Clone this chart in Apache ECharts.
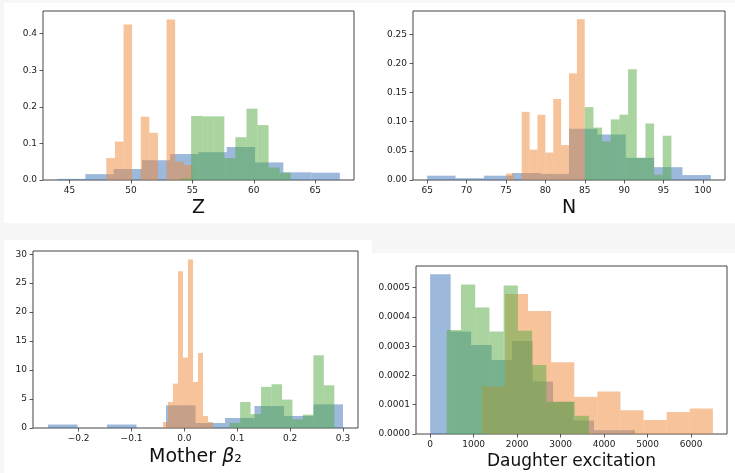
<!DOCTYPE html>
<html>
<head>
<meta charset="utf-8">
<script src="https://cdn.jsdelivr.net/npm/echarts@6/dist/echarts.min.js"></script>
<style>
html,body{margin:0;padding:0;background:#f7f7f7;}
#chart{width:735px;height:473px;}
</style>
</head>
<body>
<div id="chart"></div>
<script>
// ---------- Data (density histograms) ----------
// Panel Z
const zBlueEdges   = [44, 46.3, 48.6, 50.9, 53.2, 55.5, 57.8, 60.1, 62.4, 64.7, 67];
const zBlue        = [0.003, 0.016, 0.030, 0.054, 0.071, 0.076, 0.090, 0.048, 0.021, 0.020];
const zOrangeEdges = [48, 48.7, 49.4, 50.1, 50.8, 51.5, 52.2, 52.9, 53.6, 54.3, 55];
const zOrange      = [0.060, 0.105, 0.425, 0, 0.173, 0.129, 0, 0.439, 0.050, 0.041];
const zGreenEdges  = [54, 54.9, 55.8, 56.7, 57.6, 58.5, 59.4, 60.3, 61.2, 62.1, 63];
const zGreen       = [0.004, 0.175, 0.174, 0.174, 0.060, 0.117, 0.195, 0.150, 0.034, 0.020];
const zXTicks = [45, 50, 55, 60, 65];
const zYTicks = [0, 0.1, 0.2, 0.3, 0.4];

// Panel N
const nBlueEdges   = [65, 68.6, 72.2, 75.8, 79.4, 83, 86.6, 90.2, 93.8, 97.4, 101];
const nBlue        = [0.0074, 0.003, 0.0074, 0.012, 0.0105, 0.088, 0.078, 0.038, 0.022, 0.0085];
const nOrangeEdges = [75, 76, 77, 78, 79, 80, 81, 82, 83, 84, 85];
const nOrange      = [0.011, 0, 0.117, 0.052, 0.112, 0.047, 0.139, 0.060, 0.183, 0.276];
const nGreenEdges  = [85, 86.1, 87.2, 88.3, 89.4, 90.5, 91.6, 92.7, 93.8, 94.9, 96];
const nGreen       = [0.125, 0.090, 0.066, 0.104, 0.112, 0.190, 0.038, 0.097, 0.009, 0.076];
const nXTicks = [65, 70, 75, 80, 85, 90, 95, 100];
const nYTicks = [0, 0.05, 0.10, 0.15, 0.20, 0.25];

// Panel Mother beta2
const mBlueEdges   = [-0.258, -0.2022, -0.1464, -0.0906, -0.0348, 0.021, 0.0768, 0.1326, 0.1884, 0.2442, 0.3];
const mBlue        = [0.6, 0, 0.6, 0, 3.92, 0.86, 1.73, 3.8, 2.08, 4.08];
const mOrangeEdges = [-0.0405, -0.0310, -0.0216, -0.0121, -0.0027, 0.0068, 0.0163, 0.0257, 0.0352, 0.0446, 0.0541];
const mOrange      = [1.04, 4.5, 7.66, 27.06, 12.15, 29.08, 7.95, 12.96, 2.08, 1.04];
const mGreenEdges  = [0.0856, 0.1054, 0.1252, 0.145, 0.1648, 0.1846, 0.2044, 0.2242, 0.244, 0.2638, 0.2836];
const mGreen       = [0.9, 4.5, 2.4, 7.1, 7.55, 4.9, 1.5, 2.3, 12.55, 7.37];
const mXTicks = [-0.2, -0.1, 0.0, 0.1, 0.2, 0.3];
const mYTicks = [0, 5, 10, 15, 20, 25, 30];

// Panel Daughter excitation
const dBlueEdges   = [0, 471, 942, 1413, 1884, 2355, 2826, 3297, 3768, 4239, 4710];
const dBlue        = [0.000546, 0.000350, 0.000304, 0.000253, 0.000318, 0.000179, 0.000110, 0.000046, 0.000013, 0.000013];
const dOrangeEdges = [1189, 1720, 2251, 2782, 3313, 3845, 4376, 4907, 5438, 5969, 6500];
const dOrange      = [0.000162, 0.000478, 0.000420, 0.000245, 0.000127, 0.000145, 0.000081, 0.000048, 0.000075, 0.000087];
const dGreenEdges  = [382, 709, 1036, 1363, 1690, 2017, 2344, 2671, 2998, 3325, 3652];
const dGreen       = [0.000355, 0.000511, 0.000432, 0.000350, 0.000507, 0.000353, 0.000236, 0.000110, 0.000110, 0.000062];
const dXTicks = [0, 1000, 2000, 3000, 4000, 5000, 6000];
const dYTicks = [0, 0.0001, 0.0002, 0.0003, 0.0004, 0.0005];

// ---------- Styling ----------
const BLUE = 'rgba(57,113,181,0.5)';
const ORANGE = 'rgba(239,135,53,0.5)';
const GREEN = 'rgba(83,169,65,0.5)';
const FONT = 'DejaVu Sans';
const LABEL = '#1a1a1a';

function hist(idx, edges, vals, color) {
  const data = vals.map((v, i) => [edges[i], edges[i + 1], v]);
  return {
    type: 'custom', xAxisIndex: idx, yAxisIndex: idx, data: data,
    encode: { x: [0, 1], y: 2 },
    renderItem: function (params, api) {
      const p0 = api.coord([api.value(0), api.value(2)]);
      const p1 = api.coord([api.value(1), 0]);
      return { type: 'rect',
        shape: { x: p0[0], y: p0[1], width: p1[0] - p0[0], height: p1[1] - p0[1] },
        style: { fill: color } };
    }
  };
}

function xAxis(idx, min, max, ticks, fmt, name, nameGap, nameSize, rich) {
  return {
    type: 'value', gridIndex: idx, min: min, max: max,
    splitLine: { show: false }, axisLine: { show: false, onZero: false },
    axisTick: { show: true, length: 3.5, customValues: ticks, lineStyle: { color: '#333', width: 0.8 } },
    axisLabel: { customValues: ticks, formatter: fmt, fontFamily: FONT, fontSize: 9, color: LABEL, margin: 6 },
    name: name, nameLocation: 'middle', nameGap: nameGap,
    nameTextStyle: { fontFamily: FONT, fontSize: nameSize, color: '#111', rich: rich }
  };
}
function yAxis(idx, min, max, ticks, fmt) {
  return {
    type: 'value', gridIndex: idx, min: min, max: max,
    splitLine: { show: false }, axisLine: { show: false, onZero: false },
    axisTick: { show: true, length: 3.5, customValues: ticks, lineStyle: { color: '#333', width: 0.8 } },
    axisLabel: { customValues: ticks, formatter: fmt, fontFamily: FONT, fontSize: 9, color: LABEL, margin: 6 }
  };
}
const fix = n => v => (v < 0 ? '\u2212' : '') + Math.abs(v).toFixed(n);

const gridStyle = { show: true, borderColor: '#444', borderWidth: 1, backgroundColor: 'transparent' };

const chart = echarts.init(document.getElementById('chart'), null, { renderer: 'canvas' });
chart.setOption({
  animation: false,
  backgroundColor: '#f7f7f7',
  graphic: [
    { type: 'rect', silent: true, z: -10, shape: { x: 4, y: 3, width: 731, height: 220 }, style: { fill: '#ffffff' } },
    { type: 'rect', silent: true, z: -10, shape: { x: 4, y: 240, width: 368, height: 233 }, style: { fill: '#ffffff' } },
    { type: 'rect', silent: true, z: -10, shape: { x: 372, y: 253, width: 363, height: 220 }, style: { fill: '#ffffff' } }
  ],
  grid: [
    Object.assign({ left: 43, top: 11, width: 311, height: 169 }, gridStyle),
    Object.assign({ left: 413, top: 11, width: 312, height: 169 }, gridStyle),
    Object.assign({ left: 33, top: 251, width: 325, height: 177 }, gridStyle),
    Object.assign({ left: 416, top: 266, width: 311, height: 168 }, gridStyle)
  ],
  xAxis: [
    xAxis(0, 42.85, 68.15, zXTicks, fix(0), 'Z', 19, 19),
    xAxis(1, 63.2, 102.8, nXTicks, fix(0), 'N', 19, 19),
    xAxis(2, -0.2864, 0.3284, mXTicks, fix(1), '{a|Mother }{b|\u03b2}{a|\u2082}', 20, 19,
      { a: { fontFamily: FONT, fontSize: 19, color: '#111' }, b: { fontFamily: FONT, fontSize: 19, fontStyle: 'italic', color: '#111' } }),
    xAxis(3, -325, 6825, dXTicks, fix(0), 'Daughter excitation', 19, 17)
  ],
  yAxis: [
    yAxis(0, 0, 0.462, zYTicks, fix(1)),
    yAxis(1, 0, 0.290, nYTicks, fix(2)),
    yAxis(2, 0, 30.55, mYTicks, fix(0)),
    yAxis(3, 0, 0.000574, dYTicks, fix(4))
  ],
  series: [
    hist(0, zBlueEdges, zBlue, BLUE), hist(0, zOrangeEdges, zOrange, ORANGE), hist(0, zGreenEdges, zGreen, GREEN),
    hist(1, nBlueEdges, nBlue, BLUE), hist(1, nOrangeEdges, nOrange, ORANGE), hist(1, nGreenEdges, nGreen, GREEN),
    hist(2, mBlueEdges, mBlue, BLUE), hist(2, mOrangeEdges, mOrange, ORANGE), hist(2, mGreenEdges, mGreen, GREEN),
    hist(3, dBlueEdges, dBlue, BLUE), hist(3, dOrangeEdges, dOrange, ORANGE), hist(3, dGreenEdges, dGreen, GREEN)
  ]
});
</script>
</body>
</html>
